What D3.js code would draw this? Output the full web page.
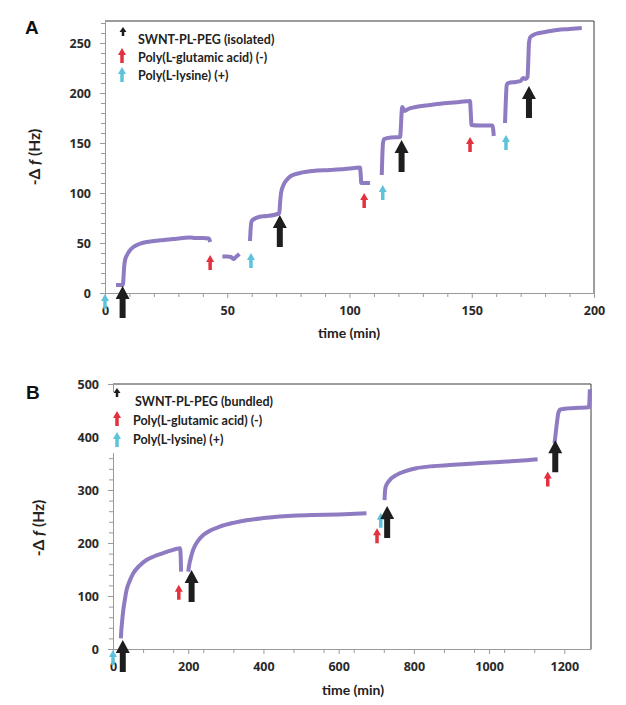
<!DOCTYPE html>
<html><head><meta charset="utf-8">
<script src="https://cdn.jsdelivr.net/npm/d3@7"></script>
<style>body{margin:0;background:#fff}svg{display:block}</style>
</head><body><svg id="c" width="626" height="705"></svg>
<script>
// ---------- DATA ----------
// Panel A : time (min) vs -Δf (Hz)
const timeTicksA = [0, 50, 100, 150, 200];
const timeMinorA = [10,20,30,40,60,70,80,90,110,120,130,140,160,170,180,190];
const dfTicksA = [0, 50, 100, 150, 200, 250];
const dfMinorA = [10,20,30,40,60,70,80,90,110,120,130,140,160,170,180,190,210,220,230,240,260,270];
const segA1 = [[4.5,8],[7.3,8],[7.5,13],[7.8,25],[8.2,33],[9,38],[10,42],[11.6,46],[14,49],[17,51],[20,52],[24,53],[28,54],[32,55],[34.8,55.5],[37,55],[40,55],[42.5,54.5],[43,51]];
const segA2 = [[48,36.5],[50,36.5],[51.5,36],[52.5,34],[53.5,36],[55,39]];
const segA3 = [[59.3,52],[59.6,65],[60,72],[61,74],[63,76],[66,77],[69,78],[71.3,80],[71.6,90],[72,100],[73,108],[74.3,113],[76,117],[79.8,120],[85,122],[92,123],[98,124],[102,125],[104.3,125.5],[104.6,118],[104.8,110],[108.4,110]];
const segA4 = [[113.2,118],[113.4,135],[113.7,150],[114.2,154],[117,155.5],[120.7,156],[121,165],[121.3,180],[121.6,186],[122.5,182],[124,184],[127,186],[133,188],[140,190],[145,191],[149.3,192],[149.6,180],[149.9,168],[153,167.5],[158.5,167.5],[158.8,163],[159,157]];
const segA5 = [[163.6,170],[163.9,190],[164.3,208],[165,210],[168,211],[170,212],[171,215],[172,214],[172.8,216],[173.1,230],[173.4,250],[174,256],[176,259],[180,261],[185,263],[190,264],[195,265]];
const segmentsA = [segA1, segA2, segA3, segA4, segA5];
const swntTimesA = [7.2, 71.5, 121.3, 173.4];
const swntTipsA = [7, 78, 153, 207];
const pgaTimesA = [43, 106, 149.3];
const pgaTipsA = [38, 100, 156];
const plTimesA = [0, 59.7, 113.6, 164];
const plTipsA = [-1, 40, 108, 158];
const legendA = ["SWNT-PL-PEG (isolated)", "Poly(L-glutamic acid) (-)", "Poly(L-lysine) (+)"];

// Panel B
const timeTicksB = [0, 200, 400, 600, 800, 1000, 1200];
const timeMinorB = [80,160,240,320,480,560,640,720,880,960,1040,1120,1280];
const dfTicksB = [0, 100, 200, 300, 400, 500];
const dfMinorB = [20,40,60,80,120,140,160,180,220,240,260,280,320,340,360,380,420,440,460,480];
const segB1 = [[21,20],[21.5,28],[24,50],[27.5,74],[32,95],[36,111],[44,128],[54,143],[70,157],[89,168],[110,175],[134,181],[155,186],[170,189],[178,190],[180,175],[181,146]];
const segB2 = [[200,146],[203,160],[208,175],[213,187],[225,203],[240,215],[260,224],[284,231],[320,238],[355,243],[400,247],[443,250],[490,252],[532,253],[600,254],[674,256]];
const segB3 = [[722,281],[723,295],[725,306],[735,318],[753,328],[780,336],[806,341],[850,345],[895,347],[960,350],[1028,353],[1080,355],[1129,358]];
const segB4 = [[1174,388],[1176,400],[1178,413],[1181,430],[1184,445],[1190,452],[1210,454],[1240,455],[1265,456],[1267,470],[1268,490]];
const segmentsB = [segB1, segB2, segB3, segB4];
const swntTimesB = [26, 209, 729, 1176];
const swntTipsB = [17, 149, 270, 394];
const pgaTimesB = [175, 702, 1156];
const pgaTipsB = [121, 228, 335];
const plTimesB = [0, 712];
const plTipsB = [-2, 257];
const legendB = ["SWNT-PL-PEG (bundled)", "Poly(L-glutamic acid) (-)", "Poly(L-lysine) (+)"];

// ---------- DRAW ----------
const svg = d3.select('#c');
const FONT = 'Lato, "Open Sans", sans-serif';
const TICKFONT = '"Open Sans", Lato, sans-serif';
const PURPLE = '#8e7bc2', RED = '#e3323f', CYAN = '#5cc3db', BLACK = '#1e1e1e', AX = '#9a9a9a', FRAME = '#3a3a3a';

function arrowPath(x, y, L, h, w, s) {
  return `M${x},${y}L${x+w/2},${y+h}L${x+s/2},${y+h}L${x+s/2},${y+L}L${x-s/2},${y+L}L${x-s/2},${y+h}L${x-w/2},${y+h}Z`;
}
const BIG = [32, 13, 14, 6], SMALL = [15, 7, 8, 3.5];

function styleAxis(sel) {
  sel.attr('font-family', TICKFONT).attr('font-size', 12.5).attr('font-weight', 700);
  sel.selectAll('line').attr('stroke', AX);
  sel.selectAll('path').attr('stroke', AX);
  sel.selectAll('text').attr('fill', '#2a2a2a');
}

function drawPanel(c) {
  const g = svg.append('g');
  const x = d3.scaleLinear().domain(c.xDomain).range([c.left, c.left + c.width]);
  const y = d3.scaleLinear().domain(c.yDomain).range([c.top + c.height, c.top]);
  const y0 = y(0);
  const fmt = d3.format('d');

  // frame
  g.append('line').attr('x1', c.left).attr('x2', c.left + c.width).attr('y1', c.top).attr('y2', c.top).attr('stroke', FRAME);
  g.append('line').attr('x1', c.left + c.width).attr('x2', c.left + c.width).attr('y1', c.top).attr('y2', y0).attr('stroke', FRAME);

  // x axis
  g.append('g').attr('transform', `translate(0,${y0})`)
    .call(d3.axisBottom(x).tickValues(c.xMinor.filter(v => v <= c.xDomain[1])).tickSize(4).tickSizeOuter(0).tickFormat(''))
    .call(s => s.select('.domain').remove()).call(styleAxis);
  g.append('g').attr('transform', `translate(0,${y0})`)
    .call(d3.axisBottom(x).tickValues(c.xTicks).tickSize(5).tickSizeOuter(0).tickPadding(8).tickFormat(fmt))
    .call(styleAxis);
  // y axis
  g.append('g').attr('transform', `translate(${c.left},0)`)
    .call(d3.axisLeft(y).tickValues(c.yMinor).tickSize(4).tickSizeOuter(0).tickFormat(''))
    .call(s => s.select('.domain').remove()).call(styleAxis);
  g.append('g').attr('transform', `translate(${c.left},0)`)
    .call(d3.axisLeft(y).tickValues(c.yTicks).tickSize(5).tickSizeOuter(0).tickPadding(c.yPad).tickFormat(fmt))
    .call(styleAxis);

  // data lines
  const line = d3.line().x(d => x(d[0])).y(d => y(d[1])).curve(d3.curveMonotoneX);
  g.selectAll('path.seg').data(c.segments).join('path').attr('class', 'seg')
    .attr('d', line).attr('fill', 'none').attr('stroke', PURPLE).attr('stroke-width', 4)
    .attr('stroke-linejoin', 'round').attr('stroke-linecap', 'butt');

  // arrows
  const drawArrows = (times, tips, col, dims) => {
    g.append('g').selectAll('path').data(times.map((t, i) => [t, tips[i]])).join('path')
      .attr('d', d => arrowPath(x(d[0]), y(d[1]), ...dims)).attr('fill', col);
  };
  drawArrows(c.pl[0], c.pl[1], CYAN, SMALL);
  drawArrows(c.pga[0], c.pga[1], RED, SMALL);
  drawArrows(c.swnt[0], c.swnt[1], BLACK, BIG);

  // legend
  const L = c.legend;
  if (L.bg) g.append('rect').attr('x', L.bg[0]).attr('y', L.bg[1]).attr('width', L.bg[2]).attr('height', L.bg[3]).attr('fill', '#fff');
  g.append('path').attr('d', arrowPath(L.ax[0], L.ay[0], 9, 5, 7, 2.5)).attr('fill', BLACK);
  g.append('path').attr('d', arrowPath(L.ax[1], L.ay[1], 15, 7, 8, 3.5)).attr('fill', RED);
  g.append('path').attr('d', arrowPath(L.ax[2], L.ay[2], 15, 7, 8, 3.5)).attr('fill', CYAN);
  g.selectAll('text.leg').data(c.legendText).join('text').attr('class', 'leg')
    .attr('x', (d, i) => L.tx[i]).attr('y', (d, i) => L.ty[i])
    .attr('font-family', FONT).attr('font-weight', 700).attr('font-size', 12.5).attr('fill', '#222').text(d => d);

  // axis titles
  g.append('text').attr('x', c.xLabel[0]).attr('y', c.xLabel[1]).attr('text-anchor', 'middle')
    .attr('font-family', FONT).attr('font-weight', 700).attr('font-size', 14).attr('fill', '#222').text('time (min)');
  const yl = g.append('text').attr('transform', `translate(${c.yLabel[0]},${c.yLabel[1]}) rotate(-90)`)
    .attr('text-anchor', 'middle').attr('font-family', FONT).attr('font-weight', 700).attr('font-size', 15.5).attr('fill', '#222');
  yl.append('tspan').text('-Δ ');
  yl.append('tspan').attr('font-style', 'italic').text('f');
  yl.append('tspan').text(' (Hz)');

  // panel letter
  g.append('text').attr('x', c.letter[0]).attr('y', c.letter[1]).attr('font-family', 'Liberation Sans, Arial, sans-serif')
    .attr('font-weight', 700).attr('font-size', 19).attr('fill', '#111').text(c.name);
}

drawPanel({
  name: 'A', letter: [25, 34],
  left: 105, top: 21, width: 489, height: 272,
  xDomain: [0, 200], yDomain: [0, 272],
  xTicks: timeTicksA, xMinor: timeMinorA, yTicks: dfTicksA, yMinor: dfMinorA, yPad: 9,
  segments: segmentsA,
  swnt: [swntTimesA, swntTipsA], pga: [pgaTimesA, pgaTipsA], pl: [plTimesA, plTipsA],
  legendText: legendA,
  legend: { ax: [123, 122, 122], ay: [27, 48, 67], tx: [138, 138, 138], ty: [44, 61.5, 79.5] },
  xLabel: [349, 338], yLabel: [40, 157]
});

drawPanel({
  name: 'B', letter: [26, 399],
  left: 113, top: 384, width: 478, height: 265,
  xDomain: [0, 1271], yDomain: [0, 500],
  xTicks: timeTicksB, xMinor: timeMinorB, yTicks: dfTicksB, yMinor: dfMinorB, yPad: 9,
  segments: segmentsB,
  swnt: [swntTimesB, swntTipsB], pga: [pgaTimesB, pgaTipsB], pl: [plTimesB, plTipsB],
  legendText: legendB,
  legend: { bg: [108, 392, 200, 61], ax: [117, 117, 117], ay: [388, 411, 432], tx: [135, 133, 133], ty: [406, 425, 443.5] },
  xLabel: [353, 695], yLabel: [44, 528]
});
</script>
</body></html>
